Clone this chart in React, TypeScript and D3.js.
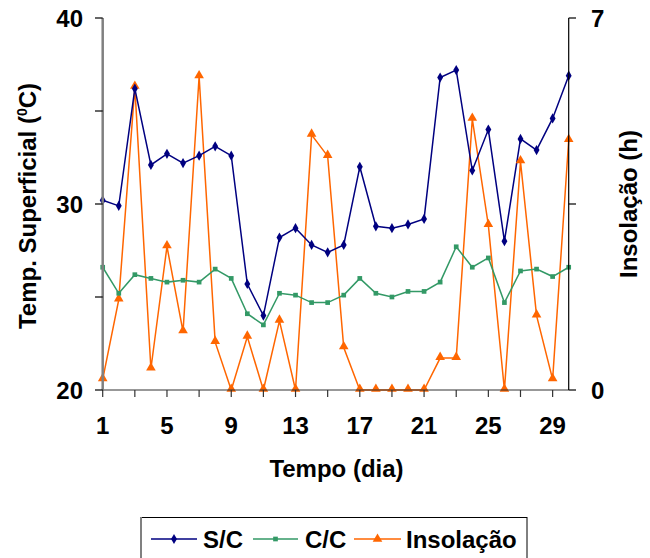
import React from "react";
import * as d3 from "d3";

// Daily values, 30 days
const days: number[] = d3.range(1, 31);
const sc: number[] = [30.2, 29.9, 36.2, 32.1, 32.7, 32.2, 32.6, 33.1, 32.6, 25.7, 24.0, 28.2, 28.7, 27.8, 27.4, 27.8, 32.0, 28.8, 28.7, 28.9, 29.2, 36.8, 37.2, 31.8, 34.0, 28.0, 33.5, 32.9, 34.6, 36.9];
const cc: number[] = [26.6, 25.2, 26.2, 26.0, 25.8, 25.9, 25.8, 26.5, 26.0, 24.1, 23.5, 25.2, 25.1, 24.7, 24.7, 25.1, 26.0, 25.2, 25.0, 25.3, 25.3, 25.8, 27.7, 26.6, 27.1, 24.7, 26.4, 26.5, 26.1, 26.6];
const insolacao: number[] = [0.2, 1.7, 5.7, 0.4, 2.7, 1.1, 5.9, 0.9, 0, 1.0, 0, 1.3, 0, 4.8, 4.4, 0.8, 0, 0, 0, 0, 0, 0.6, 0.6, 5.1, 3.1, 0, 4.3, 1.4, 0.2, 4.7];

const xLabels: number[] = [1, 5, 9, 13, 17, 21, 25, 29];
const xTicks: number[] = d3.range(1, 31, 2);
const leftTicks: number[] = [20, 25, 30, 35, 40];
const leftLabels: number[] = [20, 30, 40];
const rightTicks: number[] = [0, 3.5, 7];
const rightLabels: number[] = [0, 7];

const NAVY = "#000080";
const GREEN = "#339966";
const ORANGE = "#FF6600";
const FONT = "'Liberation Sans', Arial, sans-serif";
const FS = 24;

export default function App() {
  const x = d3.scaleLinear().domain([1, 30]).range([102.7, 568.7]);
  const yL = d3.scaleLinear().domain([20, 40]).range([390, 18]);
  const yR = d3.scaleLinear().domain([0, 7]).range([390, 18]);

  const lineL = d3
    .line<number>()
    .x((_, i) => x(days[i]))
    .y((d) => yL(d));
  const lineR = d3
    .line<number>()
    .x((_, i) => x(days[i]))
    .y((d) => yR(d));

  const diamond = d3.symbol(d3.symbolDiamond, 30)();
  const square = d3.symbol(d3.symbolSquare, 22)();
  const triangle = d3.symbol(d3.symbolTriangle, 40)();

  const textStyle = { fontFamily: FONT, fontWeight: 700, fontSize: FS, fill: "#000" } as const;

  const legendItems = [
    { label: "S/C", color: NAVY, marker: diamond, x0: 151, x1: 197, tx: 203 },
    { label: "C/C", color: GREEN, marker: square, x0: 253, x1: 298, tx: 305 },
    { label: "Insolação", color: ORANGE, marker: triangle, x0: 354, x1: 401, tx: 406 },
  ];

  return (
    <div style={{ position: "fixed", left: 0, top: 0 }}>
      <svg width={650} height={558} style={{ display: "block", background: "#fff" }}>
        {/* series lines */}
        <path d={lineR(insolacao) ?? ""} fill="none" stroke={ORANGE} strokeWidth={1.5} />
        <path d={lineL(cc) ?? ""} fill="none" stroke={GREEN} strokeWidth={1.5} />
        <path d={lineL(sc) ?? ""} fill="none" stroke={NAVY} strokeWidth={1.5} />

        {/* markers */}
        {insolacao.map((v, i) => (
          <path key={"i" + i} d={triangle ?? ""} transform={`translate(${x(days[i])},${yR(v) - 1})`} fill={ORANGE} />
        ))}
        {cc.map((v, i) => (
          <path key={"c" + i} d={square ?? ""} transform={`translate(${x(days[i])},${yL(v)})`} fill={GREEN} />
        ))}
        {sc.map((v, i) => (
          <path key={"s" + i} d={diamond ?? ""} transform={`translate(${x(days[i])},${yL(v)})`} fill={NAVY} />
        ))}

        {/* x axis */}
        <line x1={x(1)} x2={x(30)} y1={390} y2={390} stroke="#333" strokeWidth={1.2} />
        {xTicks.map((t) => (
          <line key={"xt" + t} x1={x(t)} x2={x(t)} y1={390} y2={397} stroke="#333" strokeWidth={1.2} />
        ))}
        {xLabels.map((t) => (
          <text key={"xl" + t} x={x(t)} y={434} textAnchor="middle" style={textStyle}>
            {t}
          </text>
        ))}

        {/* left axis */}
        <line x1={102.7} x2={102.7} y1={18} y2={390} stroke="#808080" strokeWidth={2.5} />
        {leftTicks.map((t) => (
          <line key={"lt" + t} x1={95} x2={102.7} y1={yL(t)} y2={yL(t)} stroke="#000" strokeWidth={1.2} />
        ))}
        {leftLabels.map((t) => (
          <text key={"ll" + t} x={83} y={yL(t) + 8.5} textAnchor="end" style={textStyle}>
            {t}
          </text>
        ))}

        {/* right axis */}
        <line x1={568.7} x2={568.7} y1={18} y2={390} stroke="#000" strokeWidth={1.2} />
        {rightTicks.map((t) => (
          <line key={"rt" + t} x1={568.7} x2={576} y1={yR(t)} y2={yR(t)} stroke="#000" strokeWidth={1.2} />
        ))}
        {rightLabels.map((t) => (
          <text key={"rl" + t} x={591} y={yR(t) + 8.5} textAnchor="start" style={textStyle}>
            {t}
          </text>
        ))}

        {/* axis titles */}
        <text transform="translate(36,206) rotate(-90)" textAnchor="middle" style={textStyle}>
          Temp. Superficial (<tspan fontSize={14} dy={-9}>0</tspan>
          <tspan dy={9}>C)</tspan>
        </text>
        <text transform="translate(637,204) rotate(-90)" textAnchor="middle" style={textStyle}>
          Insolação (h)
        </text>
        <text x={336.5} y={477} textAnchor="middle" style={textStyle}>
          Tempo (dia)
        </text>

        {/* legend */}
        <rect x={141} y={517.5} width={386} height={50} fill="#fff" stroke="#000" strokeWidth={1} />
        <line x1={141} x2={141} y1={517} y2={558} stroke="#808080" strokeWidth={2} />
        {legendItems.map((it) => (
          <g key={it.label}>
            <line x1={it.x0} x2={it.x1} y1={539} y2={539} stroke={it.color} strokeWidth={1.5} />
            <path d={it.marker ?? ""} transform={`translate(${(it.x0 + it.x1) / 2},539)`} fill={it.color} />
            <text x={it.tx} y={547.5} style={textStyle}>
              {it.label}
            </text>
          </g>
        ))}
      </svg>
    </div>
  );
}
